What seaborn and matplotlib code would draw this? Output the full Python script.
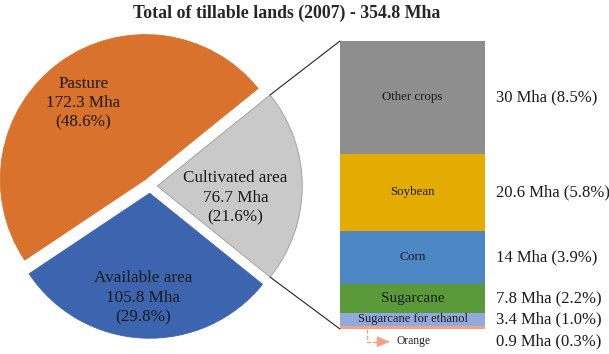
import numpy as np
import pandas as pd
import seaborn as sns
import matplotlib
matplotlib.use('Agg')
import matplotlib.pyplot as plt
from matplotlib.patches import ConnectionPatch

# pie data (Mha)
land_names = ['Cultivated area', 'Pasture', 'Available area']
land_values = [76.7, 172.3, 105.8]
land_pct = ['21.6%', '48.6%', '29.8%']
land_colors = ['#c9c9c9', '#d8722c', '#3d64ae']

# breakdown of cultivated area (top to bottom)
crop_names = ['Other crops', 'Soybean', 'Corn', 'Sugarcane', 'Sugarcane for ethanol', 'Orange']
crop_values = [30, 20.6, 14, 7.8, 3.4, 0.9]
crop_pct = ['8.5%', '5.8%', '3.9%', '2.2%', '1.0%', '0.3%']
crop_colors = ['#8e8e8e', '#e4ac00', '#4e88c4', '#5a9a3b', '#93a9de', '#f2a283']
crop_fsize = [9.3, 9.3, 9.5, 11, 9, 8]

sns.set_style('white')
plt.rcParams['font.family'] = ['Liberation Serif', 'DejaVu Serif']

W, H = 609, 354
fig = plt.figure(figsize=(W / 100, H / 100), dpi=100)

# pie axes: centre (150, 186) px, radius 145 px
R = 145
ax1 = fig.add_axes([(150 - R) / W, (H - 186 - R) / H, 2 * R / W, 2 * R / H])
wedges, _ = ax1.pie(land_values, colors=land_colors, startangle=-land_values[0] / sum(land_values) * 180,
                    explode=[0.05, 0.055, 0.05], counterclock=True,
                    wedgeprops=dict(linewidth=0.6, edgecolor='#9a9a9a'))
for w in wedges:
    w.set_clip_on(False)
wedges[1].set_edgecolor('#d8722c')
wedges[2].set_edgecolor('#3d64ae')
ax1.set_xlim(-1, 1)
ax1.set_ylim(-1, 1)
ax1.axis('off')

label_pos = [(0.59, -0.08), (-0.46, 0.57), (-0.05, -0.77)]
for name, v, p, (lx, ly) in zip(land_names, land_values, land_pct, label_pos):
    ax1.text(lx, ly, f'{name}\n{v} Mha\n({p})', ha='center', va='center',
             fontsize=12.3, color='#1a1a1a', linespacing=1.28)

# stacked bar: x 340-485 px, y 41-329 px
ax2 = fig.add_axes([340 / W, (H - 329) / H, 145 / W, 288 / H])
cum = np.cumsum(crop_values[::-1])[::-1]
df = pd.DataFrame({'crop': crop_names, 'value': crop_values, 'top': cum})
for i in range(len(df)):
    sns.barplot(x=[0], y=[df['top'][i]], color=crop_colors[i], width=1, saturation=1,
                ax=ax2, linewidth=0)
ax2.set_xlim(-0.5, 0.5)
ax2.set_ylim(0, sum(crop_values))
ax2.axis('off')

for i in range(len(df)):
    mid = df['top'][i] - df['value'][i] / 2
    if df['crop'][i] != 'Orange':
        ax2.text(0, mid, df['crop'][i], ha='center', va='center',
                 fontsize=crop_fsize[i], color='#1a1a1a')
    ty = mid if i < 5 else -3.2
    ax2.text(0.575, ty, f'{crop_values[i]} Mha ({crop_pct[i]})', ha='left', va='center',
             fontsize=12, color='#1a1a1a', clip_on=False)

# orange callout: dashed elbow with a filled head
ax2.plot([-0.315, -0.315, -0.23], [-0.1, -3.4, -3.4], ls=(0, (3, 1.5)), lw=1,
         color='#f2a283', clip_on=False)
ax2.annotate('', xy=(-0.155, -3.4), xytext=(-0.24, -3.4),
             arrowprops=dict(arrowstyle='-|>,head_length=0.72,head_width=0.3', color='#f2a283',
                             lw=0.5, mutation_scale=12, shrinkA=0, shrinkB=0),
             annotation_clip=False)
ax2.text(-0.107, -3.2, 'Orange', ha='left', va='center', fontsize=8.3, color='#1a1a1a', clip_on=False)

# lines joining cultivated wedge to the bar
th = np.deg2rad(land_values[0] / sum(land_values) * 180)
cx = 0.05
for sgn, yb in [(1, sum(crop_values)), (-1, 0)]:
    con = ConnectionPatch(xyA=(cx + np.cos(th), sgn * np.sin(th)), coordsA=ax1.transData,
                          xyB=(-0.5, yb), coordsB=ax2.transData, color='#222222', lw=0.8)
    fig.add_artist(con)

fig.text(287 / W, 1 - 13 / H, 'Total of tillable lands (2007) - 354.8 Mha', ha='center',
         va='center', fontsize=12.8, fontweight='bold')

fig.savefig('out.png', dpi=100)
